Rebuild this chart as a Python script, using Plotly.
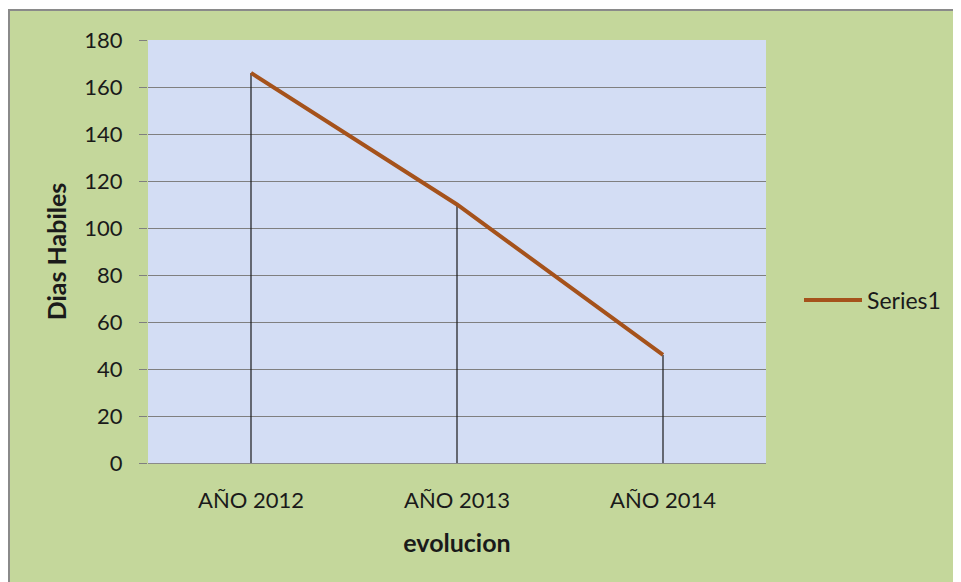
import plotly.graph_objects as go

categories = ["AÑO 2012", "AÑO 2013", "AÑO 2014"]
series1 = [166, 110, 46]
y_ticks = [0, 20, 40, 60, 80, 100, 120, 140, 160, 180]

FONT = "Lato, 'Open Sans', sans-serif"
GREEN = "#c4d79b"
PLOT_BG = "#d3ddf4"
LINE = "#a5521b"
BORDER = "#8a8a8a"

# the page has an 8px body margin, so the figure is drawn at (8, 8)
OFF = 8
W, H = 961 - OFF, 582 - OFF
L, T = 148 - OFF, 40 - OFF
pw, ph = 766 - 148, 463 - 40
R, B = W - L - pw, H - T - ph

def px_x(p):
    return (p - OFF - L) / pw

def px_y(p):
    return (T + ph - (p - OFF)) / ph

fig = go.Figure()

# drop lines from each point to the axis
fig.add_trace(go.Scatter(
    x=categories, y=series1, mode="markers",
    marker=dict(size=1, color="rgba(0,0,0,0)"),
    error_y=dict(type="data", symmetric=False, array=[0] * len(series1),
                 arrayminus=series1, width=0, thickness=1.2, color="#1a1a1a"),
    showlegend=False, hoverinfo="skip",
))

fig.add_trace(go.Scatter(
    x=categories, y=series1, mode="lines", name="Series1",
    line=dict(color=LINE, width=4),
))

fig.update_layout(
    width=W, height=H,
    margin=dict(l=L, r=R, t=T, b=B),
    paper_bgcolor=GREEN,
    plot_bgcolor=PLOT_BG,
    font=dict(family=FONT, color="#1a1a1a", size=22),
    shapes=[
        # white strip above the chart frame
        dict(type="rect", xref="paper", yref="paper",
             x0=px_x(0), x1=px_x(1000), y0=px_y(9), y1=px_y(0),
             fillcolor="white", line=dict(width=0), layer="below"),
        # frame border: top and left edges
        dict(type="line", xref="paper", yref="paper",
             x0=px_x(8), x1=px_x(1000), y0=px_y(10), y1=px_y(10),
             line=dict(color=BORDER, width=2), layer="below"),
        dict(type="line", xref="paper", yref="paper",
             x0=px_x(9), x1=px_x(9), y0=px_y(10), y1=px_y(1000),
             line=dict(color=BORDER, width=2), layer="below"),
        dict(type="rect", xref="paper", yref="paper",
             x0=0, x1=1, y0=0, y1=1,
             fillcolor=PLOT_BG, line=dict(width=0), layer="below"),
    ],
    xaxis=dict(
        type="category", range=[-0.5, 2.5],
        showgrid=False, ticks="", showline=True, linecolor=BORDER, linewidth=1,
        tickfont=dict(size=22, family=FONT),
        ticklabelstandoff=18,
        title=dict(text="<b>evolucion</b>", font=dict(size=25, family=FONT), standoff=22),
        zeroline=False,
    ),
    yaxis=dict(
        range=[0, 180], tickvals=y_ticks,
        showgrid=True, gridcolor="#7f7f7f", gridwidth=1,
        ticks="outside", ticklen=8, tickcolor="#7f7f7f",
        ticklabelstandoff=12,
        tickfont=dict(size=22, family=FONT),
        showline=False, zeroline=False,
        title=dict(text="<b>Dias Habiles</b>", font=dict(size=25, family=FONT), standoff=10),
    ),
    legend=dict(
        x=px_x(799), y=px_y(300), xanchor="left", yanchor="middle",
        bgcolor="rgba(0,0,0,0)", font=dict(size=23, family=FONT),
        itemwidth=58,
    ),
)

fig.write_html("out.html")
